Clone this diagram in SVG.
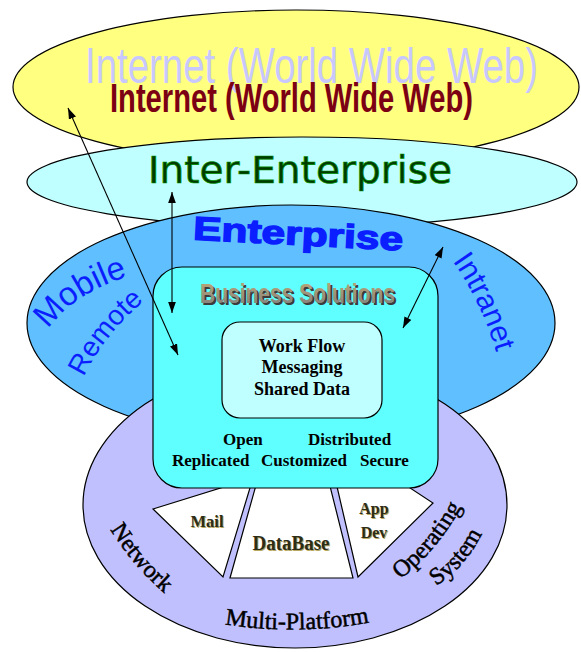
<svg xmlns="http://www.w3.org/2000/svg" width="581" height="652" viewBox="0 0 581 652">
<style>
.ol{stroke:#000;stroke-width:1.2}
.sans{font-family:"Liberation Sans",Arial,sans-serif}
.serif{font-family:"Liberation Serif","Times New Roman",serif}
.blue{fill:#0a1eff}
.inner{font-family:"Liberation Serif","Times New Roman",serif;font-weight:bold;font-size:18px;fill:#000;text-anchor:middle}
.prop{font-family:"Liberation Serif","Times New Roman",serif;font-weight:bold;font-size:17px;fill:#000}
.plat{font-family:"Liberation Serif","Times New Roman",serif;font-size:24px;fill:#000;stroke:#000;stroke-width:0.5}
.wl{font-family:"Liberation Serif","Times New Roman",serif;font-weight:bold;fill:#2c2c18;text-anchor:middle}
.ws{font-family:"Liberation Serif","Times New Roman",serif;font-weight:bold;fill:#b8a860;text-anchor:middle}
.arr{stroke:#000;stroke-width:1.1;fill:none;marker-start:url(#ah);marker-end:url(#ah)}
</style>
<defs>
<marker id="ah" viewBox="0 0 10 7" refX="10" refY="3.5" markerWidth="11" markerHeight="8" markerUnits="userSpaceOnUse" orient="auto-start-reverse">
<path d="M0,0 L10,3.5 L0,7 Z" fill="#000"/>
</marker>
<linearGradient id="bsg" x1="0" y1="0" x2="0" y2="1">
<stop offset="0" stop-color="#c4aa74"/>
<stop offset="1" stop-color="#7c7c80"/>
</linearGradient>
<path id="p-mobile" d="M 42,338 Q 72,290 138,274"/>
<path id="p-remote" d="M 78,390 Q 100,335 155,292"/>
<path id="p-intranet" d="M 440,245 Q 482,295 502,372"/>
<path id="p-network" d="M 100,512 Q 130,568 180,606"/>
<path id="p-multi" d="M 222,624 Q 297,636 372,622"/>
<path id="p-oper" d="M 385,590 Q 440,555 470,490"/>
<path id="p-system" d="M 418,595 Q 468,575 490,515"/>
</defs>
<rect width="581" height="652" fill="#fff"/>

<g id="internet">
<ellipse cx="296" cy="87" rx="283" ry="77" fill="#ffff80" class="ol"/>
<text x="85" y="83" class="sans" font-size="50" fill="#c8c8ff" textLength="453" lengthAdjust="spacingAndGlyphs">Internet (World Wide Web)</text>
<text x="110" y="112" class="sans" font-size="40" font-weight="bold" fill="#7c0014" textLength="363" lengthAdjust="spacingAndGlyphs">Internet (World Wide Web)</text>
</g>

<g id="inter-enterprise">
<ellipse cx="302" cy="182" rx="275" ry="45" fill="#c0ffff" class="ol"/>
<text x="148" y="183" font-family="'DejaVu Sans',Verdana,sans-serif" font-size="37" fill="#003a00" stroke="#009000" stroke-width="0.7" textLength="304" lengthAdjust="spacingAndGlyphs">Inter-Enterprise</text>
</g>

<g id="enterprise">
<ellipse cx="291" cy="323" rx="264" ry="118" fill="#60c0ff" class="ol"/>
<text x="298" y="245" class="sans blue" font-size="33" font-weight="bold" stroke="#0a1eff" stroke-width="1.4" text-anchor="middle" textLength="210" lengthAdjust="spacingAndGlyphs" transform="rotate(3 298 238)">Enterprise</text>
<text class="sans blue" font-size="33"><textPath href="#p-mobile" startOffset="50%" text-anchor="middle">Mobile</textPath></text>
<text class="sans blue" font-size="28"><textPath href="#p-remote" startOffset="50%" text-anchor="middle">Remote</textPath></text>
<text class="sans blue" font-size="30"><textPath href="#p-intranet" startOffset="50%" text-anchor="middle">Intranet</textPath></text>
</g>

<g id="multi-platform">
<ellipse cx="295" cy="505" rx="212" ry="143" fill="#c0c0ff" class="ol"/>
<text class="plat"><textPath href="#p-network" startOffset="50%" text-anchor="middle">Network</textPath></text>
<text class="plat" font-size="23"><textPath href="#p-multi" startOffset="50%" text-anchor="middle">Multi-Platform</textPath></text>
<text class="plat"><textPath href="#p-oper" startOffset="50%" text-anchor="middle">Operating</textPath></text>
<text class="plat"><textPath href="#p-system" startOffset="50%" text-anchor="middle">System</textPath></text>
</g>

<g id="mail">
<polygon points="153,509 253,478 223,577" fill="#fff" class="ol"/>
<text x="208" y="528" class="ws" font-size="17" textLength="33" lengthAdjust="spacingAndGlyphs">Mail</text>
<text x="207" y="527" class="wl" font-size="17" textLength="33" lengthAdjust="spacingAndGlyphs">Mail</text>
</g>

<g id="database">
<polygon points="258,478 230,578 353,578 328,478" fill="#fff" class="ol"/>
<text x="292" y="551" class="ws" font-size="20" textLength="77" lengthAdjust="spacingAndGlyphs">DataBase</text>
<text x="291" y="550" class="wl" font-size="20" textLength="77" lengthAdjust="spacingAndGlyphs">DataBase</text>
</g>

<g id="appdev">
<polygon points="335,478 358,577 433,503 395,478" fill="#fff" class="ol"/>
<text x="375" y="515" class="ws" font-size="16">App</text>
<text x="374" y="514" class="wl" font-size="16">App</text>
<text x="375" y="539" class="ws" font-size="16">Dev</text>
<text x="374" y="538" class="wl" font-size="16">Dev</text>
</g>

<g id="business-solutions">
<rect x="153" y="267" width="285" height="221" rx="29" ry="29" fill="#60ffff" class="ol"/>
<text x="202" y="305" class="sans" font-size="28" font-weight="bold" fill="#3c3c3c" textLength="195" lengthAdjust="spacingAndGlyphs">Business Solutions</text>
<text x="200" y="303" class="sans" font-size="28" font-weight="bold" fill="url(#bsg)" textLength="195" lengthAdjust="spacingAndGlyphs">Business Solutions</text>
<text x="223" y="445" class="prop">Open</text>
<text x="308" y="445" class="prop">Distributed</text>
<text x="172" y="466" class="prop">Replicated</text>
<text x="261" y="466" class="prop">Customized</text>
<text x="360" y="466" class="prop">Secure</text>
</g>

<g id="core">
<rect x="222" y="322" width="160" height="96" rx="18" ry="18" fill="#c0ffff" class="ol"/>
<text x="302" y="352" class="inner">Work Flow</text>
<text x="302" y="373" class="inner">Messaging</text>
<text x="302" y="395" class="inner">Shared Data</text>
</g>

<g id="connectors">
<line x1="68" y1="108" x2="178" y2="355" class="arr"/>
<line x1="172" y1="192" x2="172" y2="313" class="arr"/>
<line x1="443" y1="247" x2="403" y2="328" class="arr"/>
</g>
</svg>
